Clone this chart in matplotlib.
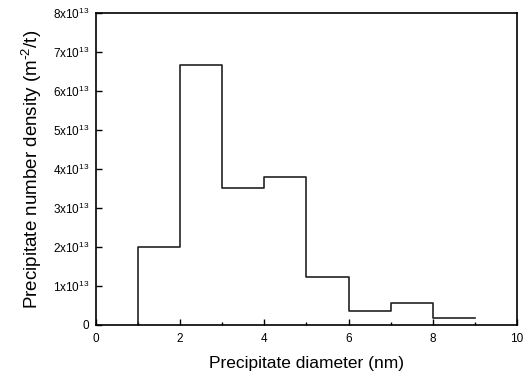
import numpy as np
import matplotlib
matplotlib.use('Agg')
import matplotlib.pyplot as plt
from matplotlib.ticker import MultipleLocator

plt.rcParams['font.family'] = ['Liberation Sans', 'DejaVu Sans']
plt.rcParams['mathtext.default'] = 'regular'

# histogram data (bin edges in nm, density in units of 1e13 m^-2/t)
bin_edges = [1, 2, 3, 4, 5, 6, 7, 8, 9]
density = [2.0, 6.67, 3.52, 3.80, 1.24, 0.37, 0.57, 0.19]
y_ticks = [0, 1, 2, 3, 4, 5, 6, 7, 8]
y_labels = ['0'] + [r'%dx10$^{13}$' % v for v in y_ticks[1:]]

fig = plt.figure(figsize=(5.27, 3.79), dpi=100)
ax = fig.add_axes([0.182, 0.1425, 0.799, 0.823])

x = [bin_edges[0]] + bin_edges
y = [0] + density + [density[-1]]
ax.step(x, y, where='post', color='#222222', lw=1.2)

ax.set_xlim(0, 10)
ax.set_ylim(0, 8)
ax.set_yticks(y_ticks)
ax.set_yticklabels(y_labels)
ax.xaxis.set_major_locator(MultipleLocator(2))
ax.xaxis.set_minor_locator(MultipleLocator(1))
ax.tick_params(direction='in', labelsize=8.5, length=4, width=1, top=False, right=False)
ax.tick_params(axis='x', pad=6)
ax.tick_params(axis='y', pad=5)
ax.tick_params(which='minor', direction='in', length=2.5, width=1)
for s in ax.spines.values():
    s.set_linewidth(1.2)

ax.set_xlabel('Precipitate diameter (nm)', fontsize=12.5, labelpad=8)
ax.set_ylabel(r'Precipitate number density (m$^{\text{-}2}$/t)', fontsize=13.5, labelpad=6)

fig.savefig('out.png', dpi=100)
